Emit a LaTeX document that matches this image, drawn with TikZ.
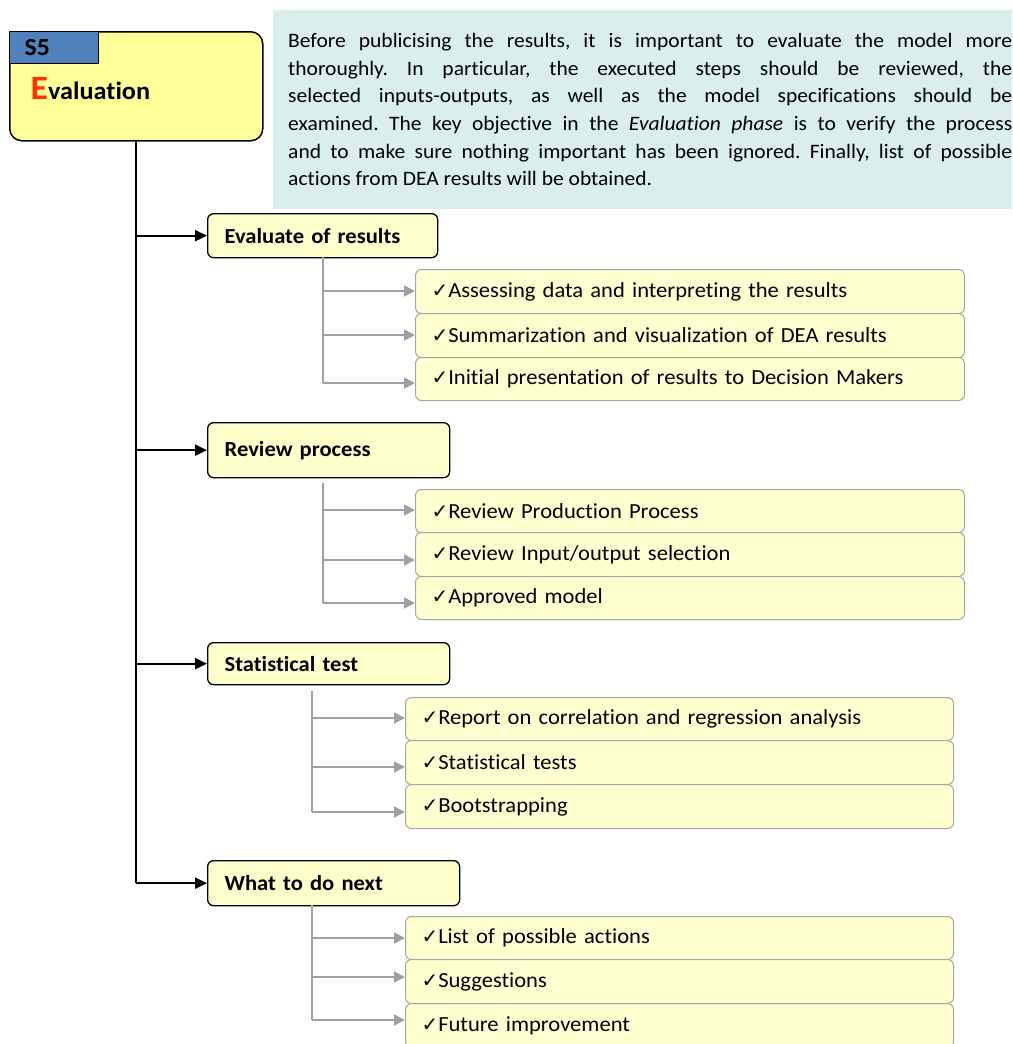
\documentclass[tikz,border=0pt]{standalone}
\usepackage{fontspec}
\setmainfont{Carlito}[FakeStretch=1.05, Ligatures=NoCommon]
\newfontfamily\dejavu{DejaVu Sans}
\usetikzlibrary{arrows.meta}
\definecolor{boxblue}{RGB}{79,129,189}
\definecolor{mainyellow}{RGB}{255,255,153}
\definecolor{stepyellow}{RGB}{255,255,204}
\definecolor{subyellow}{RGB}{255,255,208}
\definecolor{subborder}{RGB}{165,165,165}
\definecolor{notebg}{RGB}{218,238,237}
\definecolor{ered}{RGB}{255,51,0}
\definecolor{arrowgray}{RGB}{160,160,160}
\newcommand{\chk}{{\dejavu\fontsize{20}{20}\selectfont ✓}}
\frenchspacing
\begin{document}
\begin{tikzpicture}[x=1pt,y=-1pt,
  mainbox/.style={draw=black, line width=1.5pt, fill=mainyellow, rounded corners=12pt,
    minimum width=253pt, minimum height=109pt, anchor=north west, inner sep=0pt},
  sfivebox/.style={draw=black, line width=1.3pt, fill=boxblue, anchor=north west,
    minimum width=89pt, minimum height=32pt, text width=59pt, inner xsep=15pt, inner ysep=0pt,
    align=left, font=\fontsize{24.5}{26}\selectfont\bfseries},
  notebox/.style={fill=notebg, anchor=north west, minimum width=739pt, minimum height=199pt,
    text width=724pt, inner xsep=15pt, inner ysep=0pt, align=justify,
    font=\fontsize{20.5}{27.7}\selectfont},
  stepbox/.style={draw=black, line width=1.3pt, fill=stepyellow, rounded corners=6pt,
    anchor=north west, inner xsep=17pt, inner ysep=0pt, align=left,
    font=\fontsize{21.5}{24}\selectfont\bfseries},
  subbox/.style={draw=subborder, line width=1pt, fill=subyellow, rounded corners=6pt,
    anchor=north west, inner xsep=16pt, inner ysep=0pt, align=left,
    font=\fontsize{21.5}{24}\selectfont},
  mainline/.style={draw=black, line width=2.2pt},
  mainarrow/.style={draw=black, line width=2.2pt, -{Triangle[length=12pt,width=11pt]}},
  grayline/.style={draw=arrowgray, line width=1.8pt},
  grayarrow/.style={draw=arrowgray, line width=1.8pt, -{Triangle[length=11pt,width=11pt]}}
]
\useasboundingbox (0,0) rectangle (1012,1044);
\clip (0,0) rectangle (1012,1044);

% description box
\node[notebox] (note) at (273,10) {Before publicising the results, it is important to evaluate the model more\linebreak
thoroughly. In particular, the executed steps should be reviewed, the\linebreak
selected inputs-outputs, as well as the model specifications should be\linebreak
examined. The key objective in the \textit{Evaluation phase} is to verify the process\linebreak
and to make sure nothing important has been ignored. Finally, list of possible\linebreak
actions from DEA results will be obtained.};

% main box
\node[mainbox] (main) at (9,31) {};
\node[sfivebox] (s5) at (9,31) {S5};
\node[anchor=base west, inner sep=0pt, font=\bfseries] (title) at (30.5,99)
  {{\color{ered}\fontsize{34}{34}\selectfont E}\fontsize{25}{25}\selectfont valuation};

% step boxes
\node[stepbox, minimum width=230pt, minimum height=44pt, text width=196pt] (st1) at (207,213) {Evaluate of results};
\node[stepbox, minimum width=242pt, minimum height=55pt, text width=208pt] (st2) at (207,422) {Review process};
\node[stepbox, minimum width=242pt, minimum height=42pt, text width=208pt] (st3) at (207,642) {Statistical test};
\node[stepbox, minimum width=252pt, minimum height=45pt, text width=218pt] (st4) at (207,860) {What to do next};

% spine
\draw[mainline] (main.south) -- (main.south |- st4.west);
\foreach \s in {st1,st2,st3,st4} {
  \draw[mainarrow] (main.south |- \s.west) -- (\s.west);
}

% sub boxes
\tikzset{subA/.style={subbox, minimum width=549pt, text width=517pt},
         subB/.style={subbox, minimum width=548pt, text width=516pt}}
\node[subA, minimum height=44pt] (s11) at (415,269) {\chk Assessing data and interpreting the results};
\node[subA, minimum height=44pt] (s12) at (415,313) {\chk Summarization and visualization of DEA results};
\node[subA, minimum height=43pt] (s13) at (415,357) {\chk Initial presentation of results to Decision Makers};

\node[subA, minimum height=43pt] (s21) at (415,489) {\chk Review Production Process};
\node[subA, minimum height=44pt] (s22) at (415,532) {\chk Review Input/output selection};
\node[subA, minimum height=43pt] (s23) at (415,576) {\chk Approved model};

\node[subB, minimum height=43pt] (s31) at (405,697) {\chk Report on correlation and regression analysis};
\node[subB, minimum height=44pt] (s32) at (405,740) {\chk Statistical tests};
\node[subB, minimum height=44pt] (s33) at (405,784) {\chk Bootstrapping};

\node[subB, minimum height=43pt] (s41) at (405,916) {\chk List of possible actions};
\node[subB, minimum height=44pt] (s42) at (405,959) {\chk Suggestions};
\node[subB, minimum height=44pt] (s43) at (405,1003) {\chk Future improvement};

% gray branch lines
\coordinate (g1top) at (323,257);
\coordinate (a11) at (323,291); \coordinate (a12) at (323,335); \coordinate (a13) at (323,383);
\coordinate (g2top) at (323,483);
\coordinate (a21) at (323,510); \coordinate (a22) at (323,560); \coordinate (a23) at (323,603);
\coordinate (g3top) at (312,691);
\coordinate (a31) at (312,718); \coordinate (a32) at (312,767); \coordinate (a33) at (312,812);
\coordinate (g4top) at (312,905);
\coordinate (a41) at (312,938); \coordinate (a42) at (312,977); \coordinate (a43) at (312,1020);

\draw[grayline] (g1top) -- (a13);
\draw[grayline] (g2top) -- (a23);
\draw[grayline] (g3top) -- (a33);
\draw[grayline] (g4top) -- (a43);
\foreach \a/\b in {a11/s11,a12/s12,a13/s13,a21/s21,a22/s22,a23/s23,a31/s31,a32/s32,a33/s33,a41/s41,a42/s42,a43/s43} {
  \draw[grayarrow] (\a) -- (\a -| \b.west);
}
\end{tikzpicture}
\end{document}
